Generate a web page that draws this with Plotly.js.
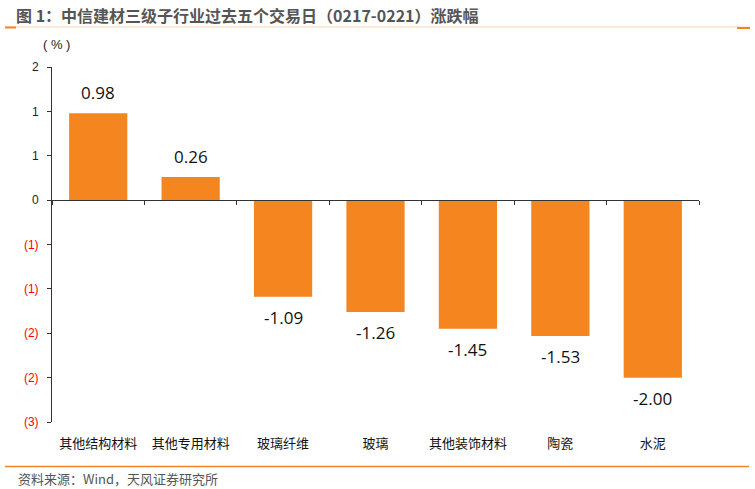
<!DOCTYPE html>
<html>
<head>
<meta charset="utf-8">
<script src="https://cdn.plot.ly/plotly-3.0.1.min.js"></script>
<style>html,body{margin:0;padding:0;background:#fff;}#chart{width:755px;height:489px;}</style>
</head>
<body>
<div id="chart"></div>
<script>
const categories = ["其他结构材料","其他专用材料","玻璃纤维","玻璃","其他装饰材料","陶瓷","水泥"];
const values = [0.98, 0.26, -1.09, -1.26, -1.45, -1.53, -2.00];
const yTickVals = [1.5, 1, 0.5, 0, -0.5, -1, -1.5, -2, -2.5];
const yTickLabels = ["2","1","1","0","(1)","(1)","(2)","(2)","(3)"];
const titleText = "图 1：中信建材三级子行业过去五个交易日（0217-0221）涨跌幅";
const sourceText = "资料来源：Wind，天风证券研究所";
const unitText = "( % )";

const W = 755, H = 489;
const M = {l: 52, r: 56, t: 67, b: 67};
const yRange = [-2.5, 1.5];
const px = x => (x - M.l) / (W - M.l - M.r);
const py = y => (H - M.b - y) / (H - M.t - M.b);
const orange = "#F5851F";

const ticktext = yTickLabels.map((t, i) => yTickVals[i] < 0 ? '<span style="color:#FF0000">' + t + '</span>' : t);

const bars = {
  type: "bar", x: categories, y: values, width: 0.63,
  marker: {color: orange}, hoverinfo: "skip", showlegend: false
};
const baseline = {
  type: "scatter", x: categories, y: categories.map(() => 0), xaxis: "x2", yaxis: "y",
  mode: "none", hoverinfo: "skip", showlegend: false
};

const annotations = values.map((v, i) => ({
  x: categories[i], y: v, xref: "x", yref: "y", text: v.toFixed(2), showarrow: false,
  yanchor: v >= 0 ? "bottom" : "top", yshift: v >= 0 ? 7 : -7,
  font: {family: "Open Sans, Liberation Sans, sans-serif", size: 17, color: "#111"}
}));
annotations.push({
  xref: "paper", yref: "paper", x: px(14), y: py(15), xanchor: "left", yanchor: "middle",
  text: "<b>" + titleText + "</b>", showarrow: false,
  font: {family: "Noto Sans CJK SC, sans-serif", size: 16, color: "#555"}
});
annotations.push({
  xref: "paper", yref: "paper", x: px(16), y: py(478), xanchor: "left", yanchor: "middle",
  text: sourceText, showarrow: false,
  font: {family: "Noto Sans CJK SC, sans-serif", size: 13, color: "#555"}
});
annotations.push({
  xref: "paper", yref: "paper", x: px(41), y: py(44), xanchor: "left", yanchor: "middle",
  text: unitText, showarrow: false,
  font: {family: "Liberation Sans, Arial, sans-serif", size: 13, color: "#222"}
});

const shapes = [
  {type: "line", xref: "paper", yref: "paper", x0: px(5), x1: px(750), y0: py(27), y1: py(27), line: {color: "#FAD3B0", width: 1}},
  {type: "line", xref: "paper", yref: "paper", x0: px(5), x1: px(16), y0: py(27.5), y1: py(27.5), line: {color: orange, width: 2}},
  {type: "line", xref: "paper", yref: "paper", x0: px(737), x1: px(750), y0: py(28), y1: py(28), line: {color: orange, width: 2}},
  {type: "line", xref: "paper", yref: "paper", x0: px(5), x1: px(749), y0: py(466.5), y1: py(466.5), line: {color: orange, width: 1.5}}
];

const layout = {
  width: W, height: H, margin: M,
  paper_bgcolor: "#fff", plot_bgcolor: "#fff",
  font: {family: "Liberation Sans, Arial, sans-serif", size: 12, color: "#222"},
  xaxis: {
    type: "category", range: [-0.5, 6.5], showline: false, ticks: "", showgrid: false, zeroline: false,
    tickfont: {family: "Noto Sans CJK SC, sans-serif", size: 13, color: "#111"},
    ticklabelstandoff: 12, fixedrange: true
  },
  xaxis2: {
    type: "category", overlaying: "x", anchor: "free", position: (0 - yRange[0]) / (yRange[1] - yRange[0]),
    range: [-0.5, 6.5], showline: true, linecolor: "#333", linewidth: 1,
    ticks: "outside", tickson: "boundaries", ticklen: 4, tickcolor: "#333", tickwidth: 1,
    showticklabels: false, showgrid: false, zeroline: false, fixedrange: true
  },
  yaxis: {
    range: yRange, tickvals: yTickVals, ticktext: ticktext, showline: true, linecolor: "#333", linewidth: 1,
    ticks: "outside", ticklen: 4, tickcolor: "#333", showgrid: false, zeroline: false,
    tickfont: {family: "Liberation Sans, Arial, sans-serif", size: 12, color: "#222"},
    ticklabelstandoff: 6, fixedrange: true
  },
  annotations: annotations, shapes: shapes, showlegend: false
};

Plotly.newPlot("chart", [bars, baseline], layout, {displayModeBar: false, staticPlot: true});
</script>
</body>
</html>
